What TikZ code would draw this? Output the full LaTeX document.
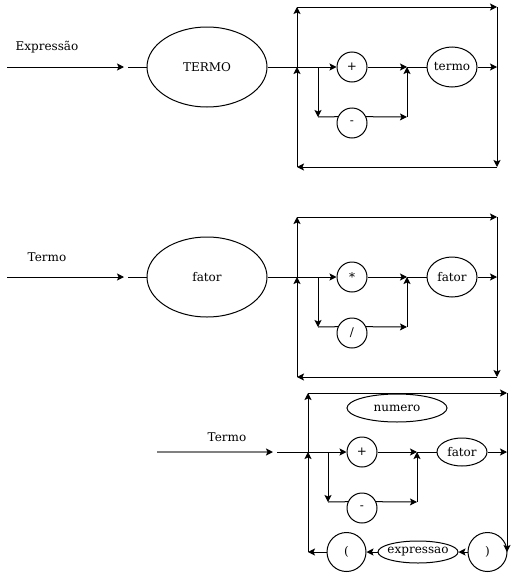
\documentclass[tikz,border=0pt]{standalone}
\usepackage{fontspec}
\setmainfont{DejaVu Serif}
\usetikzlibrary{shapes.geometric,arrows.meta}
\begin{document}
\begin{tikzpicture}[x=1pt,y=-1pt,
  >={Stealth[length=7pt,width=7pt,inset=1.5pt]},
  every node/.style={font=\fontsize{12}{14}\selectfont},
  every path/.style={line width=1pt},
  lbl/.style={inner sep=0pt},
  bigell/.style={draw,ellipse,inner sep=0pt,minimum width=120pt,minimum height=80pt},
  smell/.style={draw,ellipse,inner sep=0pt,minimum width=50pt,minimum height=40pt},
  circ/.style={draw,circle,inner sep=0pt,minimum size=30pt},
  grayline/.style={draw=black!50,line width=1.5pt}
]
\useasboundingbox (0,0) rectangle (516,573);

% ---------------- section 1 ----------------
\node[lbl] (l1) at (47,47) {Expressão};
\coordinate (s1) at (7,67);
\coordinate (e1) at (124,67);
\coordinate (f1) at (128,67);
\node[bigell] (T1) at (207,67) {TERMO};
\coordinate (j1) at (297,67);
\coordinate (tl1) at (297,7);
\coordinate (tr1) at (497,7);
\coordinate (br1) at (497,167);
\coordinate (bl1) at (297,167);
\coordinate (r1) at (497,67);
\coordinate (a1) at (318,67);
\coordinate (b1) at (318,117);
\coordinate (c1) at (407,117);
\coordinate (d1) at (407,67);
\node[circ] (p1) at (352,67) {+};
\node[circ] (m1) at (352,123) {-};
\node[smell] (t1) at (452,67) {\makebox[0pt]{termo}};

\draw[->] (s1) -- (e1);
\draw (f1) -- (T1);
\draw[->] (T1) -- (p1);
\draw[->] (bl1) -- (j1);
\draw[->] (j1) -- (tl1);
\draw[->] (tl1) -- (tr1);
\draw[->] (tr1) -- (br1);
\draw[->] (br1) -- (bl1);
\draw[->] (a1) -- (b1);
\draw (b1) -- (m1.156);
\draw[->] (m1.24) -- (c1);
\draw[->] (c1) -- (d1);
\draw[->] (p1) -- (d1);
\draw (d1) -- (t1);
\draw[->] (t1) -- (r1);

% ---------------- section 2 ----------------
\node[lbl] (l2) at (47,257) {Termo};
\coordinate (s2) at (7,277);
\coordinate (e2) at (124,277);
\coordinate (f2) at (128,277);
\node[bigell] (T2) at (207,277) {fator};
\coordinate (j2) at (297,277);
\coordinate (tl2) at (297,217);
\coordinate (tr2) at (497,217);
\coordinate (br2) at (497,377);
\coordinate (bl2) at (297,377);
\coordinate (r2) at (497,277);
\coordinate (a2) at (318,277);
\coordinate (b2) at (318,327);
\coordinate (c2) at (407,327);
\coordinate (d2) at (407,277);
\node[circ] (p2) at (352,277) {*};
\node[circ] (m2) at (352,333) {/};
\node[smell] (t2) at (452,277) {\makebox[0pt]{fator}};

\draw[->] (s2) -- (e2);
\draw (f2) -- (T2);
\draw[->] (T2) -- (p2);
\draw[->] (bl2) -- (j2);
\draw[->] (j2) -- (tl2);
\draw[->] (tl2) -- (tr2);
\draw[->] (tr2) -- (br2);
\draw[->] (br2) -- (bl2);
\draw[->] (a2) -- (b2);
\draw (b2) -- (m2.156);
\draw[->] (m2.24) -- (c2);
\draw[->] (c2) -- (d2);
\draw[->] (p2) -- (d2);
\draw (d2) -- (t2);
\draw[->] (t2) -- (r2);

% ---------------- section 3 ----------------
\node[lbl] (l3) at (227,437) {Termo};
\coordinate (s3) at (157,452);
\coordinate (e3) at (273,452);
\coordinate (f3) at (277,452);
\coordinate (j3) at (308,452);
\coordinate (tl3) at (308,393);
\coordinate (tr3) at (507,393);
\coordinate (bl3) at (308,552);
\coordinate (r3) at (507,452);
\coordinate (a3) at (328,452);
\coordinate (b3) at (328,502);
\coordinate (c3) at (417,502);
\coordinate (d3) at (417,452);
\node[circ] (p3) at (362,452) {+};
\node[circ] (m3) at (362,508) {-};
\node[smell,minimum height=28pt] (fa3) at (462,452) {\makebox[0pt]{fator}};
\node[smell,minimum width=100pt,minimum height=28pt] (nu3) at (397,408) {\makebox[0pt]{numero}};
\node[circ,minimum size=39pt] (rp3) at (487.5,552) {)};
\node[smell,minimum width=80pt,minimum height=22pt] (ex3) at (418,552) {\makebox[0pt]{expressao}};
\node[circ,minimum size=39pt] (lp3) at (346.5,552) {(};
\coordinate (q3) at (507,552);

\draw[grayline,-{Stealth[length=7pt,width=7pt,inset=1.5pt,color=black]}] (s3) -- (e3);
\draw[->] (f3) -- (p3);
\draw[->] (j3) -- (tl3);
\draw[->] (tl3) -- (tr3);
\draw[->] (tr3) -- (q3);
\draw[->] (rp3) -- (ex3);
\draw[->] (ex3) -- (lp3);
\draw[->] (lp3) -- (bl3);
\draw[->] (bl3) -- (j3);
\draw[->] (a3) -- (b3);
\draw (b3) -- (m3.156);
\draw[->] (m3.24) -- (c3);
\draw[->] (c3) -- (d3);
\draw[->] (p3) -- (d3);
\draw (d3) -- (fa3);
\draw[->] (fa3) -- (r3);
\end{tikzpicture}
\end{document}
